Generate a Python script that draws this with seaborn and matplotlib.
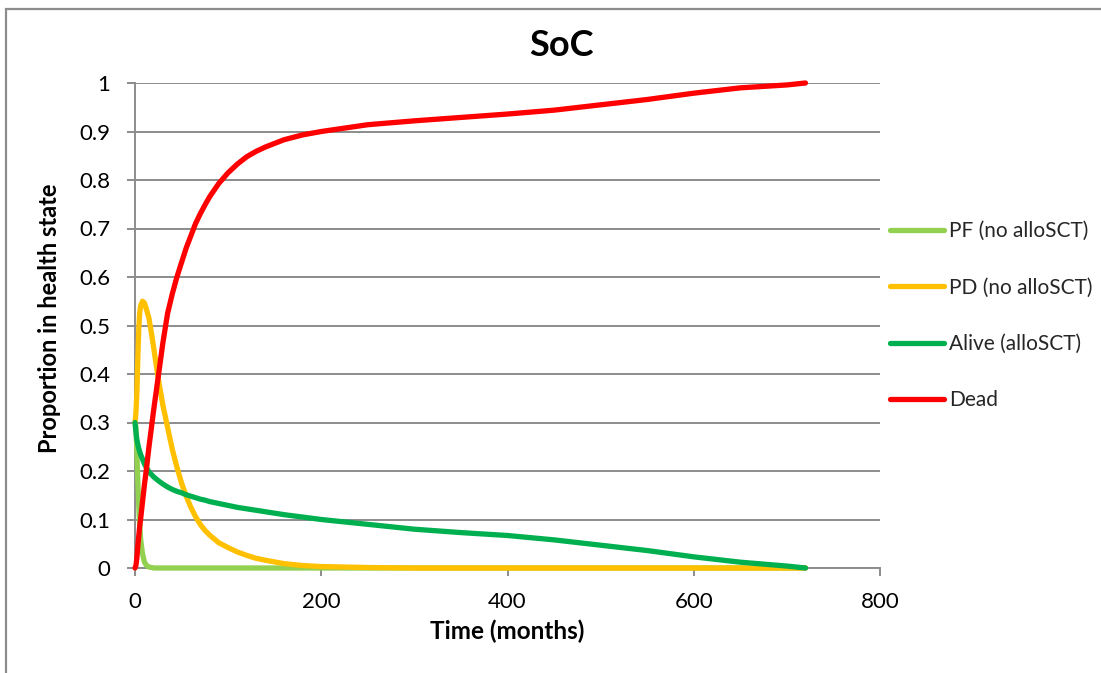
import matplotlib
matplotlib.use("Agg")
import matplotlib.pyplot as plt
from matplotlib.patches import Rectangle
import pandas as pd
import seaborn as sns

# Markov trace for the standard-of-care arm (months)
months = [0, 1, 2, 3, 4, 5, 6, 8, 10, 12,
          15, 18, 20, 25, 30, 35, 40, 45, 50, 55,
          60, 65, 70, 75, 80, 90, 100, 110, 120, 130,
          140, 160, 180, 200, 250, 300, 350, 400, 450, 500,
          550, 600, 650, 700, 720]

pf_no_allo = [0.30, 0.29, 0.24, 0.18, 0.13, 0.09, 0.06, 0.03, 0.013, 0.006,
              0.002, 0.001, 0.0, 0.0, 0.0, 0.0, 0.0, 0.0, 0.0, 0.0,
              0.0, 0.0, 0.0, 0.0, 0.0, 0.0, 0.0, 0.0, 0.0, 0.0,
              0.0, 0.0, 0.0, 0.0, 0.0, 0.0, 0.0, 0.0, 0.0, 0.0,
              0.0, 0.0, 0.0, 0.0, 0.0]

pd_no_allo = [0.30, 0.32, 0.36, 0.43, 0.49, 0.525, 0.54, 0.55, 0.547, 0.535,
              0.515, 0.48, 0.455, 0.39, 0.335, 0.29, 0.245, 0.208, 0.175, 0.148,
              0.125, 0.106, 0.09, 0.078, 0.068, 0.052, 0.042, 0.033, 0.026, 0.02,
              0.016, 0.009, 0.005, 0.003, 0.001, 0.0, 0.0, 0.0, 0.0, 0.0,
              0.0, 0.0, 0.0, 0.0, 0.0]

alive_allo = [0.30, 0.28, 0.265, 0.255, 0.247, 0.24, 0.234, 0.225, 0.215, 0.208,
              0.198, 0.192, 0.188, 0.18, 0.173, 0.167, 0.162, 0.158, 0.155, 0.151,
              0.148, 0.145, 0.142, 0.14, 0.137, 0.133, 0.129, 0.125, 0.122, 0.119,
              0.116, 0.11, 0.105, 0.10, 0.09, 0.08, 0.073, 0.067, 0.058, 0.047,
              0.036, 0.023, 0.012, 0.004, 0.0]

dead = [0.0, 0.005, 0.02, 0.045, 0.065, 0.085, 0.10, 0.135, 0.17, 0.20,
        0.25, 0.295, 0.325, 0.395, 0.465, 0.525, 0.565, 0.60, 0.63, 0.66,
        0.685, 0.71, 0.73, 0.748, 0.765, 0.793, 0.815, 0.833, 0.848, 0.859,
        0.868, 0.883, 0.893, 0.90, 0.914, 0.922, 0.929, 0.936, 0.944, 0.955,
        0.966, 0.979, 0.99, 0.996, 1.0]

states = ["PF (no alloSCT)", "PD (no alloSCT)", "Alive (alloSCT)", "Dead"]
colors = ["#92D050", "#FFC000", "#00B050", "#FF0000"]

x_ticks = [0, 200, 400, 600, 800]
y_ticks = [0, 0.1, 0.2, 0.3, 0.4, 0.5, 0.6, 0.7, 0.8, 0.9, 1.0]
y_tick_labels = ["0", "0.1", "0.2", "0.3", "0.4", "0.5", "0.6", "0.7", "0.8", "0.9", "1"]

trace = pd.concat([
    pd.DataFrame({"Time": months, "Proportion": vals, "State": name})
    for name, vals in zip(states, [pf_no_allo, pd_no_allo, alive_allo, dead])
], ignore_index=True)

sns.set_theme(style="white")
plt.rcParams["font.family"] = ["Lato", "DejaVu Sans"]

fig = plt.figure(figsize=(11.01, 6.73), dpi=100)
ax = fig.add_axes([135 / 1101, 1 - 568 / 673, 745 / 1101, 485 / 673])

sns.lineplot(data=trace, x="Time", y="Proportion", hue="State", hue_order=states,
             palette=colors, linewidth=3.8, legend=False, ax=ax, sort=False,
             estimator=None, zorder=3)
for ln in ax.lines:
    ln.set_clip_on(False)
    ln.set_solid_capstyle("round")
    ln.set_solid_joinstyle("round")

grid_col = "#8C8C8C"
ax.set_xlim(0, 800)
ax.set_ylim(0, 1)
ax.set_xticks(x_ticks)
ax.set_xticklabels([str(t) for t in x_ticks])
ax.set_yticks(y_ticks)
ax.set_yticklabels(y_tick_labels)
ax.yaxis.grid(True, color=grid_col, linewidth=1.4)
ax.xaxis.grid(False)
ax.set_axisbelow(True)

for side in ["top", "right"]:
    ax.spines[side].set_visible(False)
for side in ["left", "bottom"]:
    ax.spines[side].set_color(grid_col)
    ax.spines[side].set_linewidth(1.4)

ax.tick_params(axis="both", which="major", length=6, width=1.4, color=grid_col,
               direction="out", labelsize=16, labelcolor="black", bottom=True, left=True)
ax.tick_params(axis="y", pad=12)
ax.tick_params(axis="x", pad=11)

ax.set_xlabel("Time (months)", fontsize=17.5, fontweight="bold", color="black", labelpad=6)
ax.set_ylabel("Proportion in health state", fontsize=17, fontweight="bold", color="black")
ax.yaxis.set_label_coords(-(135 - 61) / 745, (568 - 318) / 485)

fig.text(561 / 1101, 1 - 46 / 673, "SoC", ha="center", va="center",
         fontsize=26, fontweight="bold", color="black")

handles = ax.lines[:4]
fig.legend(handles, states, loc="upper left", bbox_to_anchor=(890 / 1101, 1 - 221 / 673),
           frameon=False, fontsize=15, handlelength=2.6, handletextpad=0.25,
           labelspacing=1.75, borderaxespad=0, borderpad=0)

# chart area border
fig.patches.append(Rectangle((6.5 / 1101, -0.1), 1.2, 1.1 - 9.5 / 673,
                             transform=fig.transFigure, fill=False,
                             edgecolor="#8C8C8C", linewidth=1.6, clip_on=False))

fig.savefig("out.png", dpi=100, facecolor="white")
